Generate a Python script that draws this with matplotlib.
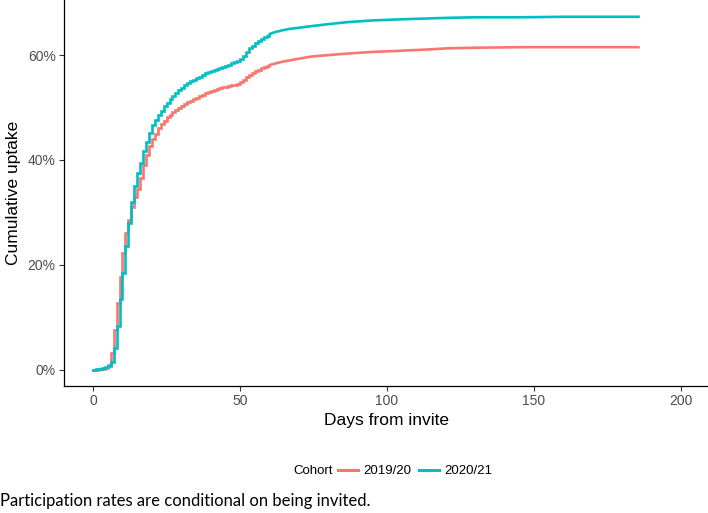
import numpy as np
import matplotlib
matplotlib.use("Agg")
import matplotlib.pyplot as plt
from matplotlib.lines import Line2D
from matplotlib.ticker import FuncFormatter

plt.rcParams['font.family'] = ['Liberation Sans', 'DejaVu Sans']

# Daily cumulative uptake (%) for the first 60 days, then sparser readings
days_daily = list(range(61))
uptake_1920_daily = [0.0, 0.0, 0.1, 0.2, 0.4, 0.9, 3.2, 7.6, 12.8, 17.7,
                     22.3, 26.0, 28.6, 31.0, 33.0, 34.5, 36.5, 39.0, 41.0, 42.6,
                     44.0, 45.0, 46.0, 46.8, 47.5, 48.1, 48.6, 49.1, 49.5, 49.9,
                     50.3, 50.7, 51.0, 51.3, 51.6, 51.9, 52.2, 52.4, 52.7, 52.9,
                     53.1, 53.3, 53.5, 53.7, 53.9, 54.0, 54.1, 54.2, 54.3, 54.5,
                     54.8, 55.3, 55.8, 56.2, 56.6, 56.9, 57.2, 57.5, 57.7, 57.9,
                     58.1]
uptake_2021_daily = [0.0, 0.1, 0.2, 0.3, 0.5, 0.8, 1.5, 4.2, 8.4, 13.5,
                     18.5, 23.5, 28.0, 32.0, 35.0, 37.5, 39.5, 41.8, 43.5, 45.2,
                     46.6, 47.6, 48.6, 49.4, 50.2, 50.9, 51.6, 52.2, 52.8, 53.3,
                     53.8, 54.2, 54.6, 55.0, 55.3, 55.6, 55.9, 56.2, 56.5, 56.7,
                     57.0, 57.2, 57.4, 57.6, 57.8, 58.0, 58.2, 58.4, 58.6, 58.9,
                     59.2, 59.8, 60.6, 61.3, 61.8, 62.3, 62.7, 63.0, 63.4, 63.7,
                     64.0]

days_late = [60, 62, 65, 67, 70, 74, 80, 87, 95, 104, 115, 121, 130, 145, 160, 175, 186]
uptake_1920_late = [58.1, 58.4, 58.8, 59.0, 59.3, 59.7, 60.0, 60.3, 60.6, 60.8,
                    61.1, 61.3, 61.4, 61.5, 61.5, 61.5, 61.5]
uptake_2021_late = [64.0, 64.4, 64.8, 65.0, 65.2, 65.5, 65.9, 66.3, 66.6, 66.8,
                    67.0, 67.1, 67.2, 67.2, 67.3, 67.3, 67.3]

cohorts = ['2019/20', '2020/21']
colors = ['#F8766D', '#00BFC4']
x_ticks = [0, 50, 100, 150, 200]
y_ticks = [0, 20, 40, 60]

W, H = 708, 513
fig = plt.figure(figsize=(W / 100, H / 100), dpi=100)
ax = fig.add_axes([64 / W, 1 - 386 / H, 1 - 64 / W, 386 / H])

series = [(uptake_1920_daily, uptake_1920_late), (uptake_2021_daily, uptake_2021_late)]
for (early, late), c in zip(series, colors):
    ax.step(days_daily, early, where='post', color=c, lw=1.9, solid_joinstyle='miter')
    ax.plot(days_late, late, color=c, lw=1.9, solid_capstyle='butt')

ax.set_xlim(-9.9, 209.2)
ax.set_ylim(-3.1, 70.5)
ax.set_xticks(x_ticks)
ax.set_yticks(y_ticks)
ax.yaxis.set_major_formatter(FuncFormatter(lambda v, p: f"{v:.0f}%"))

for side in ['top', 'right']:
    ax.spines[side].set_visible(False)
for side in ['left', 'bottom']:
    ax.spines[side].set_color('black')
    ax.spines[side].set_linewidth(0.9)
ax.tick_params(axis='both', length=3.5, width=0.8, color='#333333',
               labelsize=10, labelcolor='#4D4D4D', pad=2.5)

ax.set_xlabel('Days from invite', fontsize=12.5, labelpad=3)
ax.set_ylabel('Cumulative uptake', fontsize=12.5, labelpad=5)

# legend: title on the left, items in one row
fig.text(293 / W, 1 - 471 / H, 'Cohort', fontsize=9.5, color='black',
         ha='left', va='center')
handles = [Line2D([], [], color=c, lw=2.2) for c in colors]
fig.legend(handles, cohorts, loc='center left', bbox_to_anchor=(338 / W, 1 - 471 / H),
           ncol=2, frameon=False, fontsize=9.5, handlelength=1.5, handletextpad=0.4,
           columnspacing=0.6, borderpad=0, borderaxespad=0)

fig.text(0, 1 - 501 / H, 'Participation rates are conditional on being invited.',
         fontsize=12, family=['Lato', 'DejaVu Sans'], color='black',
         ha='left', va='center')

fig.savefig('out.png', dpi=100)
